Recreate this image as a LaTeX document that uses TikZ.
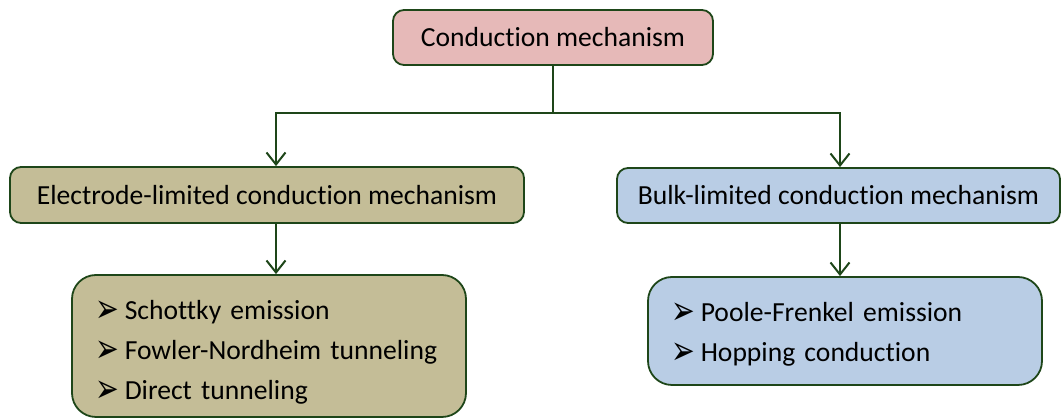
\documentclass[tikz,border=0pt]{standalone}
\usepackage{fontspec}
\usepackage{graphicx}
\setmainfont{Carlito}[Ligatures=NoCommon]
\newfontfamily\symfont{DejaVu Sans}
\usetikzlibrary{arrows.meta,positioning,calc}
\definecolor{pinkfill}{HTML}{E6B9B8}
\definecolor{tanfill}{HTML}{C4BD97}
\definecolor{bluefill}{HTML}{B9CDE5}
\definecolor{edgegreen}{RGB}{30,70,25}
\newcommand{\itm}{\raisebox{-3pt}{\scalebox{1.05}[1.5]{\symfont\fontsize{27}{27}\selectfont ➢}}\hspace{6pt}}
\tikzset{box/.style={draw=edgegreen, line width=1.8pt, rounded corners=11pt, inner sep=0pt, font=\fontsize{27.6}{40}\selectfont},
         listbox/.style={box, rounded corners=24pt, align=left, text width=#1, inner xsep=23pt},
         conn/.style={draw=edgegreen, line width=2pt, -{Straight Barb[length=12pt,width=19pt,line width=2pt]}}}

\begin{document}
\begin{tikzpicture}[x=1pt,y=1pt]
    \useasboundingbox (0,0) rectangle (1063,419);

            \node[box, fill=pinkfill, minimum width=320pt, minimum height=55pt] (cm) at (553,381.5) {Conduction mechanism};

            \node[box, fill=tanfill, minimum width=514pt, minimum height=56pt] (elec) at (267,224) {Electrode-limited conduction mechanism};
            \node[box, fill=bluefill, minimum width=443pt, minimum height=55pt] (bulk) at (838.5,223.5) {Bulk-limited conduction mechanism};

            \node[listbox=348pt, fill=tanfill, minimum height=142pt] (eleclist) at (269,73)
                {\rule{0pt}{31pt}\itm Schottky emission\\ \itm Fowler-Nordheim tunneling\\ \itm Direct tunneling};
            \node[listbox=348pt, fill=bluefill, minimum height=108pt] (bulklist) at (845,88)
                {\rule{0pt}{26pt}\itm Poole-Frenkel emission\\ \itm Hopping conduction};

            \coordinate (jl) at (276,306);
            \coordinate (jr) at (840,306);

            \draw[conn] (cm.south) |- (jl) -- (elec.north -| jl);
            \draw[conn] (cm.south) |- (jr) -- (bulk.north -| jr);
            \draw[conn] (elec.south -| jl) -- (eleclist.north -| jl);
            \draw[conn] (bulk.south -| jr) -- (bulklist.north -| jr);

\end{tikzpicture}
\end{document}
